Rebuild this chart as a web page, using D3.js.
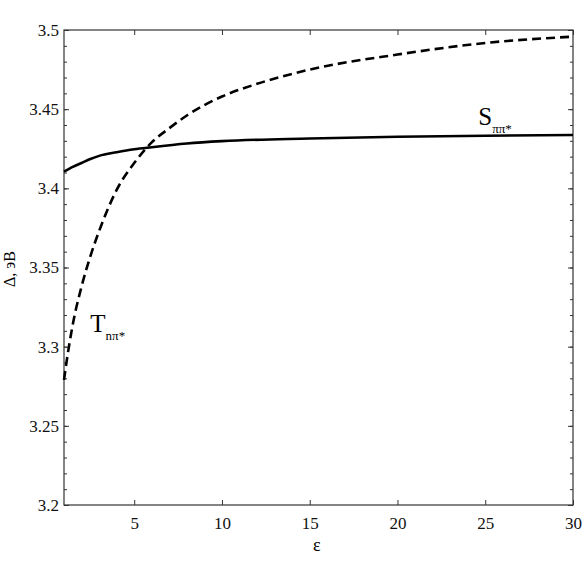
<!DOCTYPE html>
<meta charset="utf-8">
<script src="https://d3js.org/d3.v7.min.js"></script>
<style>
  body { margin: 0; background: #fff; }
</style>
<div id="chart"></div>
<script>
// data
const epsS = [1, 1.5, 2, 2.5, 3, 4, 5, 6, 8, 10, 15, 20, 25, 30];
const deltaS = [3.4105, 3.4135, 3.416, 3.4185, 3.4205, 3.4228, 3.4247, 3.426, 3.4283, 3.4298, 3.4315, 3.4326, 3.4332, 3.4337];

const epsT = [1, 1.25, 1.5, 2, 2.5, 3, 3.5, 4, 5, 6, 7, 8, 10, 12, 15, 20, 25, 30];
const deltaT = [3.279, 3.298, 3.314, 3.338, 3.357, 3.373, 3.387, 3.399, 3.416, 3.429, 3.438, 3.446, 3.458, 3.466, 3.475, 3.4845, 3.4918, 3.4958];

const xTicks = [5, 10, 15, 20, 25, 30];
const yTicks = [3.2, 3.25, 3.3, 3.35, 3.4, 3.45, 3.5];
const yMinor = d3.range(3.2, 3.5001, 0.01);

const FONT = "'Liberation Serif', 'Times New Roman', serif";
const W = 583, H = 572;
const margin = {top: 30, right: 10, bottom: 67, left: 64};
const width = W - margin.left - margin.right;
const height = H - margin.top - margin.bottom;

const svg = d3.select("#chart").append("svg")
    .attr("width", W).attr("height", H)
  .append("g")
    .attr("transform", "translate(" + margin.left + "," + margin.top + ")");

const x = d3.scaleLinear().domain([1, 30]).range([0, width]);
const y = d3.scaleLinear().domain([3.2, 3.5]).range([height, 0]);

// frame
svg.append("rect")
    .attr("width", width).attr("height", height)
    .attr("fill", "none").attr("stroke", "#333").attr("stroke-width", 1.2);

// bottom axis: labels + inward ticks
svg.append("g").attr("transform", "translate(0," + height + ")")
    .call(d3.axisBottom(x).tickValues(xTicks).tickSize(-5).tickPadding(12).tickFormat(d3.format("d")));
// top axis ticks
svg.append("g")
    .call(d3.axisTop(x).tickValues(xTicks).tickSize(-5).tickFormat(""));
// left axis (major)
svg.append("g")
    .call(d3.axisLeft(y).tickValues(yTicks).tickSize(-5).tickPadding(5).tickFormat(d => String(+d.toFixed(2))));
// left/right minor ticks
svg.append("g").call(d3.axisLeft(y).tickValues(yMinor).tickSize(-3).tickFormat(""));
svg.append("g").attr("transform", "translate(" + width + ",0)")
    .call(d3.axisRight(y).tickValues(yMinor).tickSize(-3).tickFormat(""));
svg.append("g").attr("transform", "translate(" + width + ",0)")
    .call(d3.axisRight(y).tickValues(yTicks).tickSize(-5).tickFormat(""));

svg.selectAll(".domain").remove();
svg.selectAll(".tick line").attr("stroke", "#333");
svg.selectAll(".tick text")
    .attr("font-family", FONT).attr("font-size", 17).attr("fill", "#111");

// axis titles
svg.append("text")
    .attr("x", x(15.4)).attr("y", height + 46)
    .attr("text-anchor", "middle")
    .attr("font-family", FONT).attr("font-size", 18)
    .text("ε");
svg.append("text")
    .attr("transform", "translate(" + (-49) + "," + y(3.349) + ") rotate(-90)")
    .attr("text-anchor", "middle")
    .attr("font-family", FONT).attr("font-size", 16)
    .text("Δ, эВ");

// curves
const line = d3.line()
    .x(d => x(d[0])).y(d => y(d[1]))
    .curve(d3.curveMonotoneX);

svg.append("path")
    .datum(d3.zip(epsS, deltaS))
    .attr("d", line)
    .attr("fill", "none").attr("stroke", "#000").attr("stroke-width", 2.6);

svg.append("path")
    .datum(d3.zip(epsT, deltaT))
    .attr("d", line)
    .attr("fill", "none").attr("stroke", "#000").attr("stroke-width", 2.6)
    .attr("stroke-dasharray", "9,5");

// curve labels
const sLab = svg.append("text")
    .attr("x", x(24.6)).attr("y", y(3.4398))
    .attr("font-family", FONT).attr("font-size", 25);
sLab.append("tspan").text("S");
sLab.append("tspan").attr("dy", 8).attr("font-size", 13).text("ππ*");

const tLab = svg.append("text")
    .attr("x", x(2.5)).attr("y", y(3.3094))
    .attr("font-family", FONT).attr("font-size", 25);
tLab.append("tspan").text("T");
tLab.append("tspan").attr("dy", 8).attr("font-size", 13).text("nπ*");
</script>
